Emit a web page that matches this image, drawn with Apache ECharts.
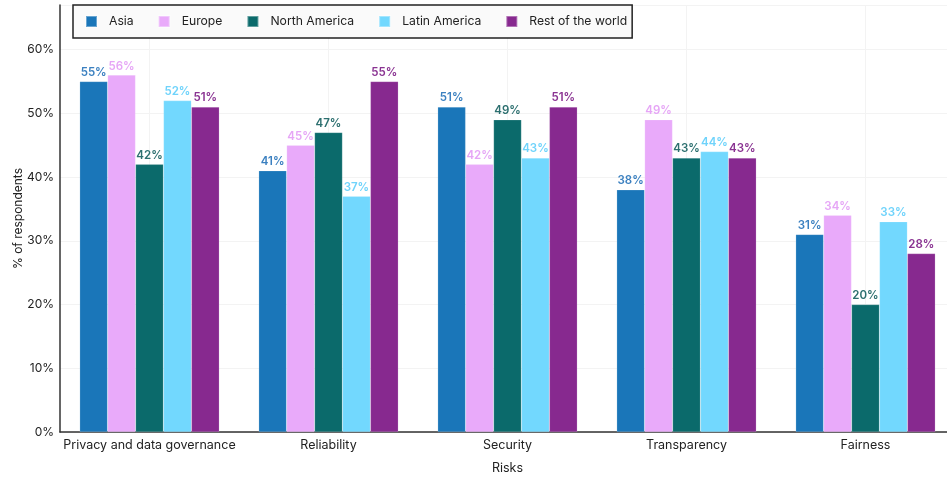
<!DOCTYPE html>
<html>
<head>
<meta charset="utf-8">
<script src="https://cdn.jsdelivr.net/npm/echarts@6/dist/echarts.min.js"></script>
<style>
  html, body { margin: 0; padding: 0; background: #fff; }
  #chart { width: 947px; height: 478px; }
</style>
</head>
<body>
<div id="chart"></div>
<script>
const risks = ['Privacy and data governance', 'Reliability', 'Security', 'Transparency', 'Fairness'];
const regions = ['Asia', 'Europe', 'North America', 'Latin America', 'Rest of the world'];
const colors = ['#1a76b9', '#e9aafa', '#0b6a6b', '#72d8fe', '#87298f'];
const labelColors = ['#3b80c0', '#e6a6f6', '#2c6f6f', '#6fd3fb', '#8a3392'];

const asia = [55, 41, 51, 38, 31];
const europe = [56, 45, 42, 49, 34];
const northAmerica = [42, 47, 49, 43, 20];
const latinAmerica = [52, 37, 43, 44, 33];
const restOfWorld = [51, 55, 51, 43, 28];
const seriesValues = [asia, europe, northAmerica, latinAmerica, restOfWorld];

const yTicks = [0, 10, 20, 30, 40, 50, 60];

const font = 'Inter, "Noto Sans", sans-serif';
const chart = echarts.init(document.getElementById('chart'), null, { renderer: 'canvas' });

chart.setOption({
  animation: false,
  textStyle: { fontFamily: font },
  legend: {
    top: 5,
    left: 73,
    itemWidth: 11,
    itemHeight: 11,
    itemGap: 24,
    padding: [10, 5, 10, 12],
    borderColor: '#222',
    borderWidth: 1.5,
    backgroundColor: '#fafafa',
    textStyle: { fontSize: 12.2, color: '#222', fontFamily: font, padding: [0, 0, 0, 7] },
    icon: 'rect',
    data: regions
  },
  grid: { left: 60, right: -8, top: 5, bottom: 46, outerBoundsMode: 'none' },
  xAxis: {
    type: 'category',
    data: risks,
    name: 'Risks',
    nameLocation: 'middle',
    nameGap: 30,
    nameMoveOverlap: false,
    nameTextStyle: { fontSize: 12.5, color: '#222', fontFamily: font },
    axisLine: { lineStyle: { color: '#333', width: 1.5 } },
    axisTick: { show: false },
    axisLabel: { interval: 0, fontSize: 12.5, color: '#222', margin: 7, fontFamily: font },
    splitLine: { show: true, alignWithLabel: true, lineStyle: { color: '#f3f3f3', width: 1 } }
  },
  yAxis: {
    type: 'value',
    min: 0,
    max: 67,
    interval: 10,
    name: '% of respondents',
    nameLocation: 'middle',
    nameGap: 36,
    nameMoveOverlap: false,
    nameTextStyle: { fontSize: 12, color: '#222', fontFamily: font },
    axisLine: { show: true, lineStyle: { color: '#333', width: 1.5 } },
    axisTick: { show: false },
    axisLabel: {
      fontSize: 12, color: '#222', margin: 6, fontFamily: font,
      showMaxLabel: false,
      formatter: v => (yTicks.indexOf(v) >= 0 ? v + '%' : '')
    },
    splitLine: { lineStyle: { color: '#f3f3f3', width: 1 } }
  },
  series: regions.map((name, i) => ({
    name,
    type: 'bar',
    data: seriesValues[i],
    barGap: '0%',
    barCategoryGap: '22%',
    itemStyle: { color: colors[i], borderColor: 'rgba(255,255,255,0.35)', borderWidth: 0.5 },
    label: {
      show: true,
      position: 'top',
      distance: 3,
      formatter: '{c}%',
      color: labelColors[i],
      fontSize: 11.5,
      fontWeight: 600,
      fontFamily: font
    }
  }))
});
</script>
</body>
</html>
